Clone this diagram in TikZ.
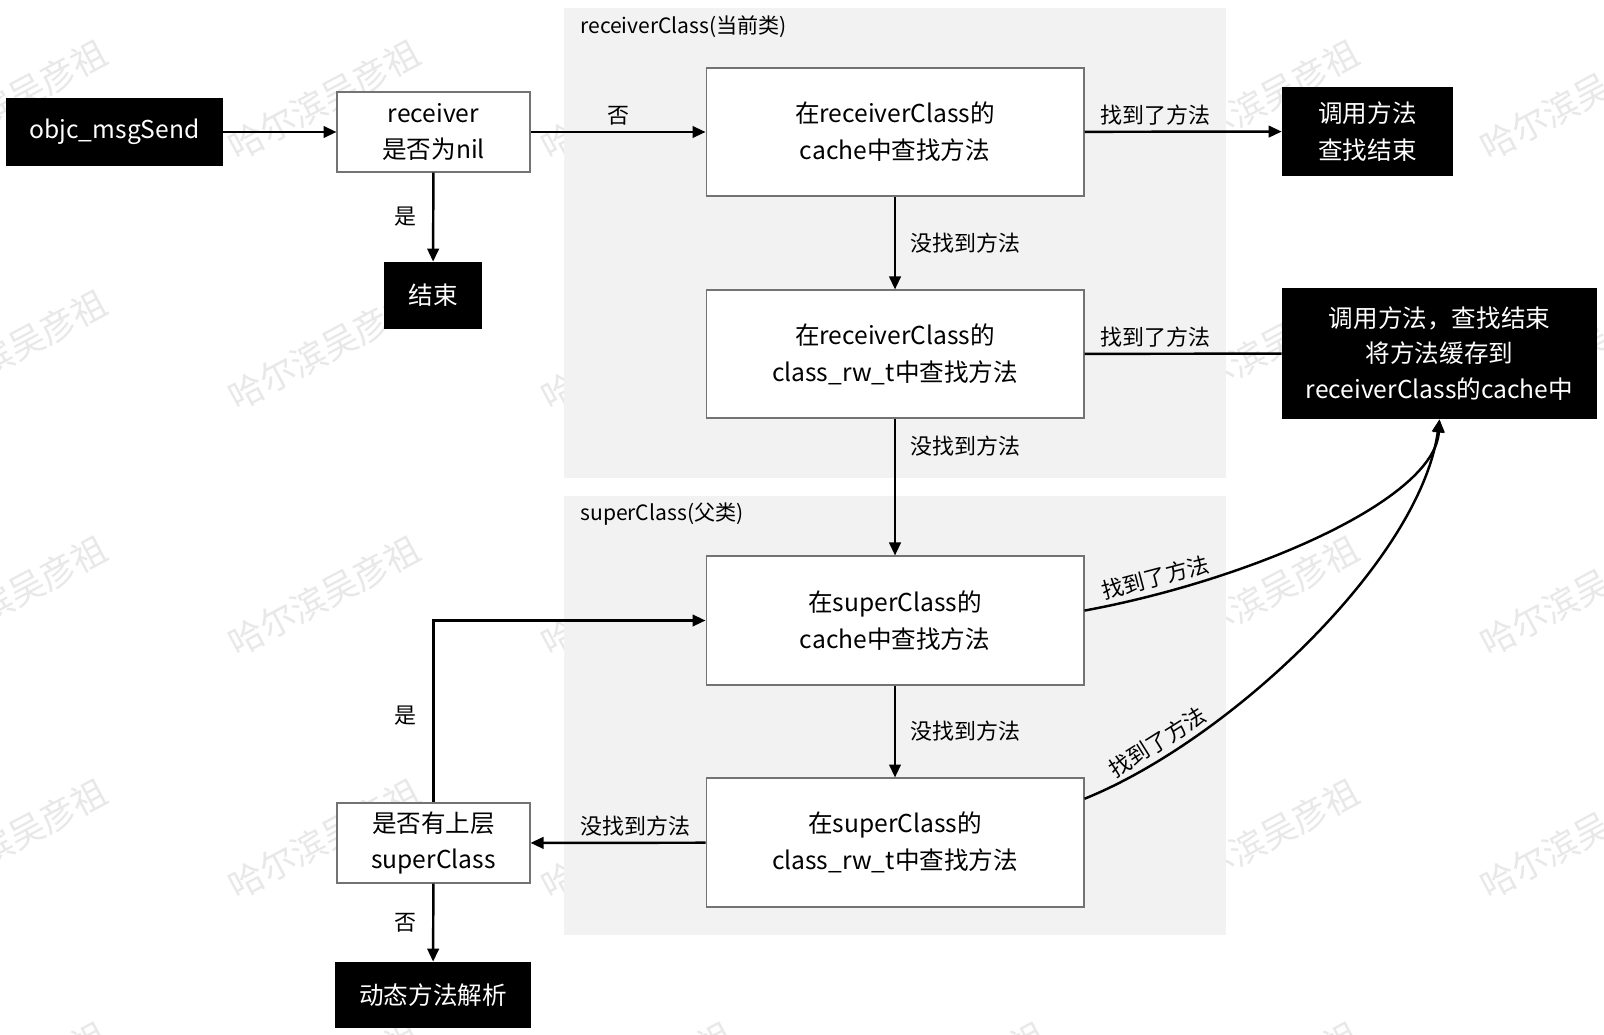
\documentclass[tikz,border=0pt]{standalone}
\usepackage{fontspec}
\setmainfont{Noto Sans CJK SC}
\usetikzlibrary{arrows.meta}

\begin{document}
\begin{tikzpicture}[x=0.02cm, y=-0.02cm,
  blackbox/.style={fill=black, text=white, font=\fontsize{14}{21}\selectfont, align=center, inner sep=0pt},
  whitebox/.style={draw=black!55, fill=white, line width=0.6pt, font=\fontsize{14}{21}\selectfont, align=center, inner sep=0pt},
  lbl/.style={font=\fontsize{12.5}{15}\selectfont, inner sep=3pt},
  arr/.style={line width=1.4pt, -{Triangle[length=0.26cm, width=0.23cm]}},
  wmark/.style={text=black!9, font=\fontsize{20}{20}\selectfont, rotate=28}]
  \useasboundingbox (0,0) rectangle (1604,1034);
  % watermark
  \foreach \wx in {11,324,637,950,1263,1576}
    \foreach \wy in {100,350,596,839,1082}
      \node[wmark] (wm-\wx-\wy) at (\wx,\wy) {哈尔滨吴彦祖};
  % class areas
  \fill[black!5] (564,8) rectangle (1226,478);
  \fill[black!5] (564,496) rectangle (1226,935);
  \node[anchor=west, inner sep=0pt, font=\fontsize{12}{14}\selectfont] (rcTitle) at (580,27) {receiverClass(当前类)};
  \node[anchor=west, inner sep=0pt, font=\fontsize{12}{14}\selectfont] (scTitle) at (580,514) {superClass(父类)};

  \node[blackbox, minimum width=4.34cm, minimum height=1.36cm] (objc) at (114.5,132) {objc\_msgSend};
  \node[whitebox, minimum width=3.86cm, minimum height=1.6cm] (receiver) at (433.5,132) {receiver\\是否为nil};
  \node[blackbox, minimum width=1.96cm, minimum height=1.34cm] (stop) at (433,295.5) {结束};
  \node[whitebox, minimum width=7.56cm, minimum height=2.56cm] (rcCache) at (895,132) {在receiverClass的\\cache中查找方法};
  \node[whitebox, minimum width=7.56cm, minimum height=2.56cm] (rcRw) at (895,354) {在receiverClass的\\class\_rw\_t中查找方法};
  \node[blackbox, minimum width=3.42cm, minimum height=1.78cm] (callEnd) at (1367.5,131.5) {调用方法\\查找结束};
  \node[blackbox, minimum width=6.3cm, minimum height=2.62cm, font=\fontsize{14}{20.3}\selectfont] (callCache) at (1439.5,353.5) {调用方法，查找结束\\将方法缓存到\\receiverClass的cache中};
  \node[whitebox, minimum width=7.56cm, minimum height=2.58cm] (scCache) at (895,620.5) {在superClass的\\cache中查找方法};
  \node[whitebox, minimum width=7.56cm, minimum height=2.58cm] (scRw) at (895,842.5) {在superClass的\\class\_rw\_t中查找方法};
  \node[whitebox, minimum width=3.86cm, minimum height=1.6cm] (hasSuper) at (433.5,843) {是否有上层\\superClass};
  \node[blackbox, minimum width=3.92cm, minimum height=1.32cm] (dynResolve) at (433,995) {动态方法解析};

  \draw[arr] (objc) -- (receiver);
  \draw[arr] (receiver) -- (rcCache) node[lbl, midway, above] {否};
  \draw[arr] (receiver) -- (stop) node[lbl, midway, left=6pt] {是};
  \draw[arr] (rcCache) -- (callEnd) node[lbl, pos=0.36, above] {找到了方法};
  \draw[arr] (rcCache) -- (rcRw) node[lbl, midway, right=5pt] {没找到方法};
  \draw[line width=1.4pt] (rcRw) -- (callCache) node[lbl, pos=0.36, above] {找到了方法};
  \draw[arr] (rcRw) -- (scCache) node[lbl, pos=0.2, right=5pt] {没找到方法};
  \draw[arr] (scCache.3) .. controls (1250,580) and (1435,500) .. (callCache.south)
    node[lbl, pos=0.15, sloped, above] {找到了方法};
  \draw[arr] (scCache) -- (scRw) node[lbl, midway, right=5pt] {没找到方法};
  \draw[arr] (scRw.13) .. controls (1230,740) and (1420,560) .. (callCache.south)
    node[lbl, pos=0.18, sloped, above] {找到了方法};
  \draw[arr] (scRw) -- (hasSuper) node[lbl, pos=0.4, above] {没找到方法};
  \draw[arr] (hasSuper.north) |- (scCache.west) node[lbl, pos=0.24, left=6pt] {是};
  \draw[arr] (hasSuper) -- (dynResolve) node[lbl, midway, left=6pt] {否};
\end{tikzpicture}
\end{document}
